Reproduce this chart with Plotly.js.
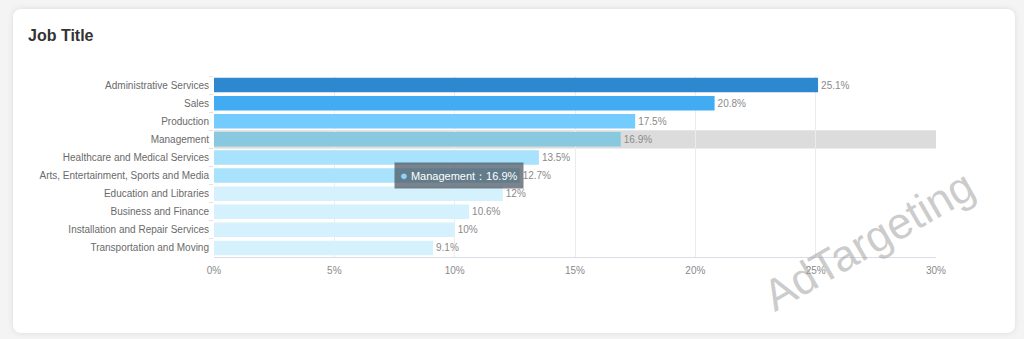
<!DOCTYPE html>
<html>
<head>
<meta charset="utf-8">
<script src="https://cdn.plot.ly/plotly-3.0.1.min.js"></script>
<style>
html,body{margin:0;padding:0;width:1024px;height:339px;background:#f4f4f4;overflow:hidden;}
#card{position:absolute;left:13px;top:9px;width:1002px;height:324px;background:#fff;border-radius:8px;box-shadow:0 0 6px rgba(0,0,0,0.10);}
#chart{position:absolute;left:0;top:0;width:1024px;height:339px;}
</style>
</head>
<body>
<div id="card"></div>
<div id="chart"></div>
<script>
const categories = ["Administrative Services","Sales","Production","Management","Healthcare and Medical Services","Arts, Entertainment, Sports and Media","Education and Libraries","Business and Finance","Installation and Repair Services","Transportation and Moving"];
const values = [25.1, 20.8, 17.5, 16.9, 13.5, 12.7, 12, 10.6, 10, 9.1];
const barColors = ["#2d88cf","#42acf2","#74cbfd","#88c9df","#a8e2fc","#a8e2fc","#d5f1fd","#d5f1fd","#d5f1fd","#d5f1fd"];
const xTickVals = [0,5,10,15,20,25,30];
const xTickText = ["0%","5%","10%","15%","20%","25%","30%"];
const hoverCategory = "Management";

const hi = categories.indexOf(hoverCategory);
const font = "Helvetica, 'Liberation Sans', Arial, sans-serif";

const trace = {
  type: "bar",
  orientation: "h",
  y: categories,
  x: values,
  marker: {color: barColors, line: {width: 0}},
  text: values.map(v => v + "%"),
  textposition: "outside",
  cliponaxis: false,
  textfont: {size: 10, color: "#8a8a8a", family: font},
  hoverinfo: "none"
};

const layout = {
  width: 1024, height: 339,
  paper_bgcolor: "rgba(0,0,0,0)",
  plot_bgcolor: "rgba(0,0,0,0)",
  margin: {l: 214, r: 88, t: 76, b: 82},
  font: {family: font},
  bargap: 0.2,
  showlegend: false,
  title: {text: "<b>Job Title</b>", x: 28/1024, xref: "container", xanchor: "left",
          y: 1 - 35/339, yref: "container", yanchor: "middle",
          font: {size: 16, color: "#333", family: font}},
  xaxis: {range: [0, 30], tickvals: xTickVals, ticktext: xTickText,
          showgrid: true, gridcolor: "#ececf0", gridwidth: 1,
          zeroline: false, showline: true, linecolor: "#dcdce6", linewidth: 1,
          ticks: "", ticklabelstandoff: 4, tickfont: {size: 10, color: "#8a8a8a"}, fixedrange: true},
  yaxis: {type: "category", categoryorder: "array", categoryarray: categories,
          autorange: "reversed", showgrid: false, zeroline: false,
          showline: false, ticks: "outside", tickson: "boundaries", ticklen: 4,
          tickcolor: "#e0e0e6", tickfont: {size: 10, color: "#6a6a6a"}, ticklabelstandoff: 4, fixedrange: true},
  shapes: [{type: "rect", xref: "paper", yref: "y", x0: 0, x1: 1, y0: hi - 0.5, y1: hi + 0.5,
            fillcolor: "#dcdcdc", line: {width: 0}, layer: "below"}],
  annotations: [
    {xref: "paper", yref: "paper", x: (459-214)/722, y: (257-175)/181,
     xanchor: "center", yanchor: "middle",
     text: '<span style="color:#8fd3f7;font-size:13px">●</span> ' + hoverCategory + "：" + values[hi] + "%",
     showarrow: false, font: {size: 11, color: "#fff", family: font},
     bgcolor: "rgba(72,84,96,0.72)", bordercolor: "rgba(72,84,96,0.0)", borderpad: 5},
    {xref: "paper", yref: "paper", x: (868-214)/722, y: (257-240)/181,
     xanchor: "center", yanchor: "middle",
     text: "AdTargeting", textangle: -30, showarrow: false,
     font: {size: 44, color: "rgba(160,160,160,0.55)", family: font}}
  ]
};

Plotly.newPlot("chart", [trace], layout, {displayModeBar: false, staticPlot: true});
</script>
</body>
</html>
